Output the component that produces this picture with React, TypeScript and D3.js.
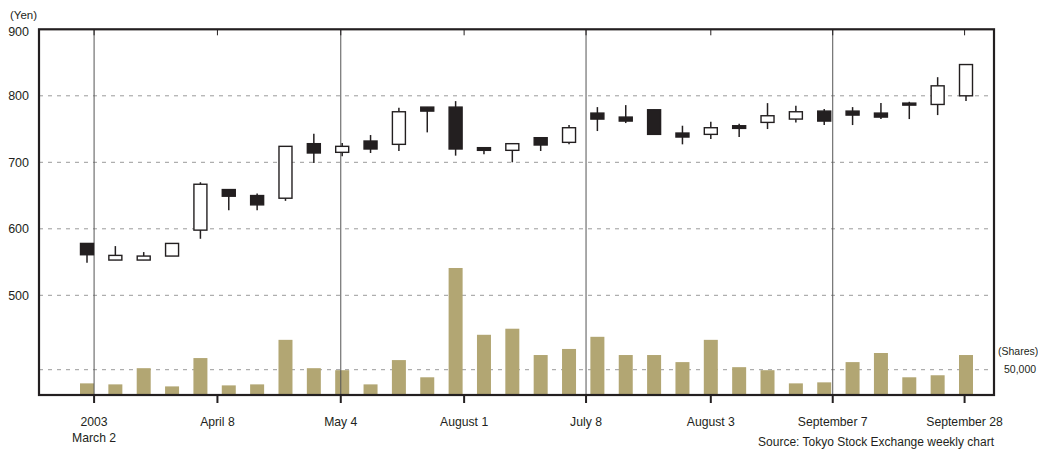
import { useEffect, useRef } from 'react';
import * as d3 from 'd3';

// weekly candles (yen)
const opens = [578, 553, 553, 559, 598, 659, 650, 646, 728, 715, 732, 727, 783, 783, 722, 718, 737, 730, 774, 768, 779, 744, 742, 755, 760, 765, 777, 777, 774, 789, 787, 800];
const closes = [561, 560, 559, 578, 667, 649, 636, 724, 714, 724, 720, 776, 777, 720, 718, 728, 726, 752, 765, 762, 742, 738, 752, 751, 770, 776, 762, 771, 768, 786, 815, 847];
const highs = [578, 574, 565, 578, 670, 659, 653, 724, 743, 729, 741, 782, 783, 792, 722, 728, 737, 756, 783, 786, 779, 755, 761, 758, 789, 785, 780, 783, 789, 791, 828, 847];
const lows = [549, 553, 553, 559, 585, 628, 628, 642, 699, 709, 714, 717, 745, 710, 712, 700, 717, 727, 747, 759, 742, 727, 735, 738, 750, 760, 756, 756, 765, 765, 771, 792];

// weekly volume (shares)
const volumes = [23000, 21000, 53000, 17000, 73000, 19000, 21000, 109000, 53000, 49000, 21000, 69000, 35000, 251000, 119000, 131000, 79000, 91000, 115000, 79000, 79000, 65000, 109000, 55000, 49000, 23000, 25000, 65000, 83000, 35000, 39000, 79000];

// date labels and where they fall, in weeks from the first candle
const dateLabels = ['2003|March 2', 'April 8', 'May 4', 'August 1', 'July 8', 'August 3', 'September 7', 'September 28'];
const dateWeeks = [0.25, 4.6, 8.95, 13.3, 17.6, 22, 26.3, 30.95];
const priceTicks = [900, 800, 700, 600, 500];
const volumeTicks = [50000];

const W = 1038;
const H = 449;
const INK = '#231f20';
const FONT = '"Liberation Sans", Arial, sans-serif';

export default function App() {
  const svgRef = useRef<SVGSVGElement>(null);

  useEffect(() => {
    if (!svgRef.current) return;
    const svg = d3.select(svgRef.current);
    svg.selectAll('*').remove();

    const left = 39, right = 994, top = 29.3, bottom = 395;

    const x = d3.scaleLinear().domain([0, opens.length - 1]).range([87, 966]);
    const y = d3.scaleLinear().domain([500, 900]).range([295.3, top]);
    const yVol = d3.scaleLinear().domain([0, 50000]).range([bottom, 369.7]);

    const dates = dateLabels.map((label, i) => ({ label, px: x(dateWeeks[i]), i }));

    const g = svg.append('g').style('font-family', FONT);

    // dashed grid lines
    g.selectAll('line.pgrid')
      .data(priceTicks.filter(d => d < 900))
      .join('line')
      .attr('x1', left).attr('x2', right)
      .attr('y1', d => y(d)).attr('y2', d => y(d))
      .attr('stroke', '#9a9a9a')
      .attr('stroke-width', 1)
      .attr('stroke-dasharray', '4,5');

    g.selectAll('line.vgrid')
      .data(volumeTicks)
      .join('line')
      .attr('x1', left).attr('x2', right)
      .attr('y1', d => yVol(d)).attr('y2', d => yVol(d))
      .attr('stroke', '#9a9a9a')
      .attr('stroke-width', 1)
      .attr('stroke-dasharray', '4,5');

    // volume bars
    g.selectAll('rect.vol')
      .data(volumes)
      .join('rect')
      .attr('x', (_, i) => x(i) - 7)
      .attr('width', 14)
      .attr('y', d => yVol(d))
      .attr('height', d => bottom - yVol(d))
      .attr('fill', '#b2a673');

    // dividers at every other date label
    g.selectAll('line.div')
      .data(dates.filter(d => d.i % 2 === 0))
      .join('line')
      .attr('x1', d => d.px).attr('x2', d => d.px)
      .attr('y1', top).attr('y2', bottom)
      .attr('stroke', '#555')
      .attr('stroke-width', 1);

    // candles
    const candles = g.selectAll('g.candle')
      .data(opens.map((o, i) => ({ o, c: closes[i], h: highs[i], l: lows[i], i })))
      .join('g');

    candles.append('line')
      .attr('x1', d => x(d.i)).attr('x2', d => x(d.i))
      .attr('y1', d => y(d.h)).attr('y2', d => y(d.l))
      .attr('stroke', INK)
      .attr('stroke-width', 1.5);

    candles.append('rect')
      .attr('x', d => x(d.i) - 6.5)
      .attr('width', 13)
      .attr('y', d => y(Math.max(d.o, d.c)))
      .attr('height', d => Math.max(2, Math.abs(y(d.o) - y(d.c))))
      .attr('fill', d => (d.c < d.o ? INK : '#fff'))
      .attr('stroke', INK)
      .attr('stroke-width', 1.4);

    // frame
    g.append('rect')
      .attr('x', left).attr('y', top)
      .attr('width', right - left).attr('height', bottom - top)
      .attr('fill', 'none')
      .attr('stroke', INK)
      .attr('stroke-width', 2.2);

    // bottom and top ticks
    g.selectAll('line.btick')
      .data(dates)
      .join('line')
      .attr('x1', d => d.px).attr('x2', d => d.px)
      .attr('y1', bottom).attr('y2', bottom + 8)
      .attr('stroke', INK)
      .attr('stroke-width', 2);

    g.selectAll('line.ttick')
      .data(dates)
      .join('line')
      .attr('x1', d => d.px).attr('x2', d => d.px)
      .attr('y1', top).attr('y2', top + 6)
      .attr('stroke', INK)
      .attr('stroke-width', 1);

    // date labels
    const labels = g.selectAll('text.date')
      .data(dates)
      .join('text')
      .attr('x', d => d.px)
      .attr('y', 426)
      .attr('text-anchor', 'middle')
      .attr('font-size', 12.2)
      .attr('fill', INK);
    labels.each(function (d) {
      d3.select(this).selectAll('tspan')
        .data(d.label.split('|'))
        .join('tspan')
        .attr('x', d.px)
        .attr('dy', (_, k) => (k === 0 ? 0 : 16))
        .text(p => p);
    });

    // price axis labels
    g.selectAll('text.price')
      .data(priceTicks)
      .join('text')
      .attr('x', 29)
      .attr('y', d => (d === 900 ? y(d) + 2 : y(d)))
      .attr('dy', '0.35em')
      .attr('text-anchor', 'end')
      .attr('font-size', 12.5)
      .attr('fill', INK)
      .text(d => d);

    g.append('text')
      .attr('x', 10).attr('y', 19)
      .attr('font-size', 11.5)
      .attr('fill', INK)
      .text('(Yen)');

    // volume axis labels
    g.append('text')
      .attr('x', 998).attr('y', 355)
      .attr('font-size', 10.5)
      .attr('fill', INK)
      .text('(Shares)');

    g.selectAll('text.vol')
      .data(volumeTicks)
      .join('text')
      .attr('x', 1004)
      .attr('y', d => yVol(d))
      .attr('dy', '0.35em')
      .attr('font-size', 10.5)
      .attr('fill', INK)
      .text(d => d3.format(',')(d));

    g.append('text')
      .attr('x', right).attr('y', 446)
      .attr('text-anchor', 'end')
      .attr('font-size', 12)
      .attr('fill', INK)
      .text('Source: Tokyo Stock Exchange weekly chart');
  }, []);

  return (
    <svg
      ref={svgRef}
      width={W}
      height={H}
      style={{ position: 'absolute', left: 0, top: 0, background: '#fff' }}
    />
  );
}
